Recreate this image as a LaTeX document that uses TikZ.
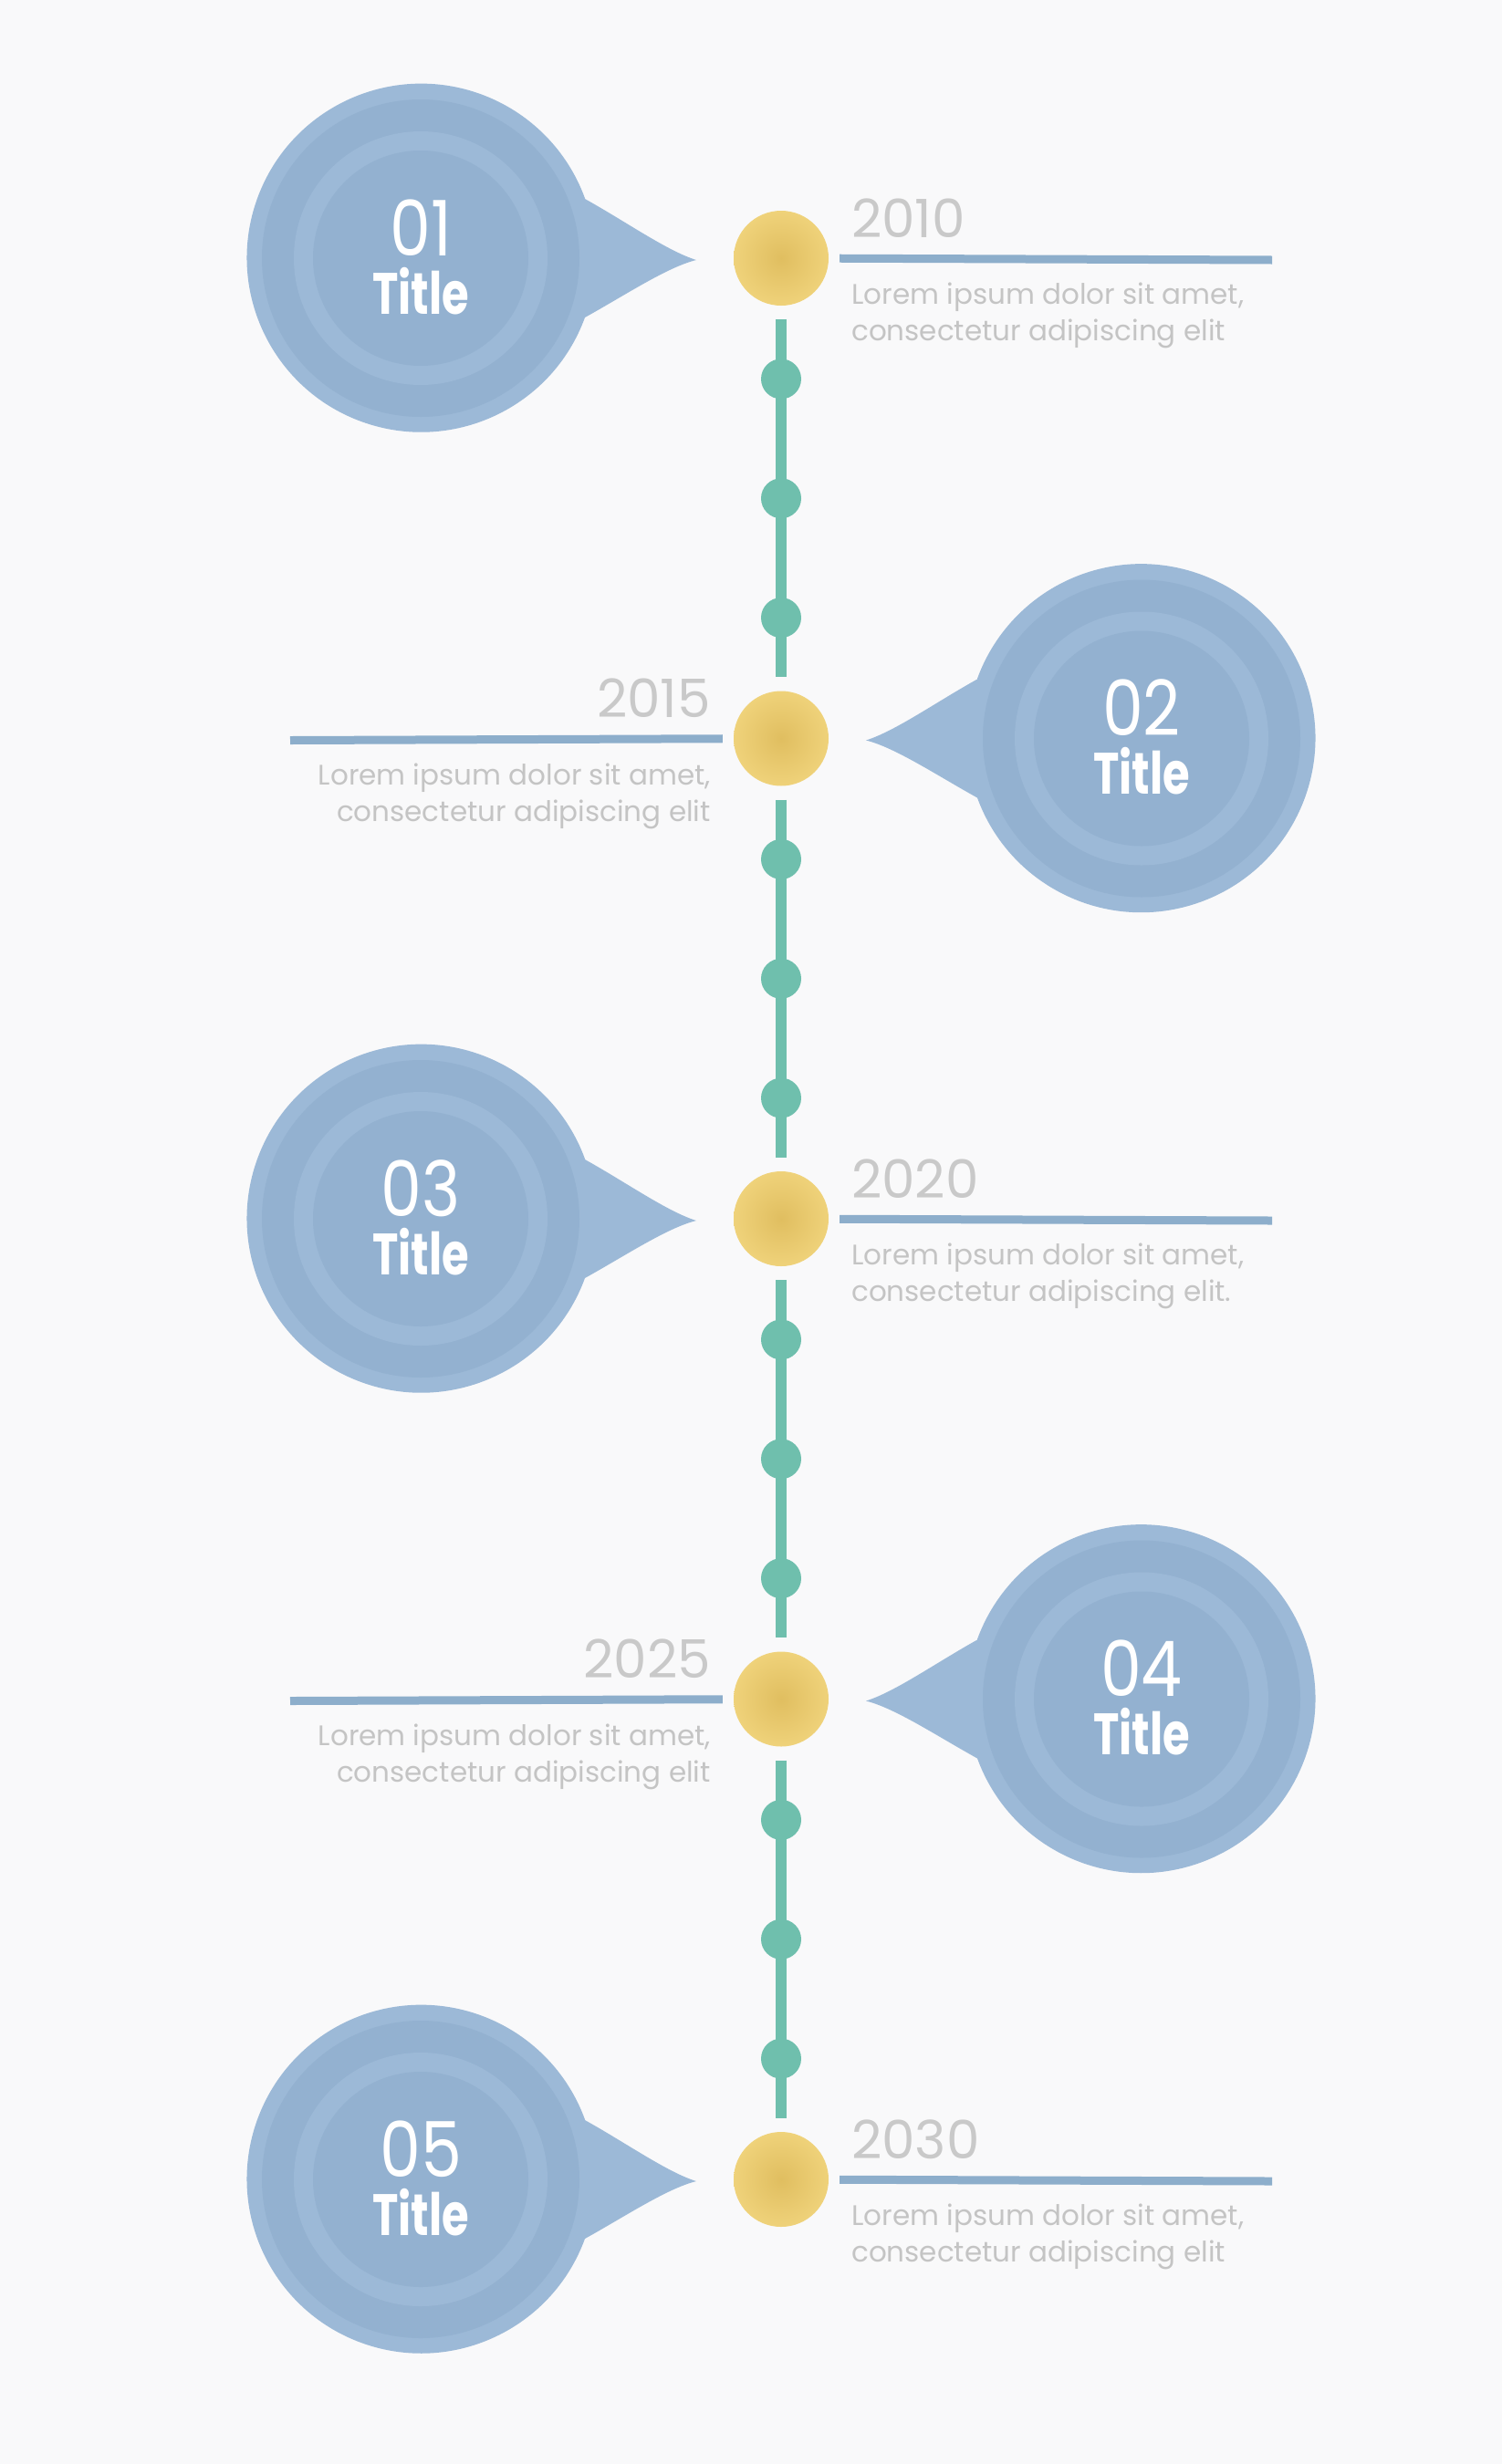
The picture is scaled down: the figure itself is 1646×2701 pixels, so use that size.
\documentclass[tikz,border=0pt]{standalone}
\usepackage{fontspec}
\setmainfont{Poppins}
\newfontfamily\numfont[FakeStretch=0.85]{Poppins}
\newfontfamily\headfont[FakeStretch=0.75]{Poppins}

\definecolor{bg}{HTML}{F9F9FA}
\definecolor{bubblelight}{HTML}{9CB9D7}
\definecolor{bubbledark}{HTML}{93B1D0}
\definecolor{dotline}{HTML}{6FBFAD}
\definecolor{armline}{HTML}{8DAECB}
\definecolor{yeargray}{HTML}{C9C9C9}
\definecolor{textgray}{HTML}{C4C4C4}
\definecolor{markout}{HTML}{EFD27A}
\definecolor{markin}{HTML}{E0BE60}

\tikzset{
  marker/.style={circle, minimum size=104pt, inner sep=0pt, inner color=markin, outer color=markout},
  dot/.style={circle, fill=dotline, minimum size=44pt, inner sep=0pt},
  arm/.style={armline, line width=9pt},
  year/.style={text=yeargray, font=\fontsize{58}{62}\selectfont, inner sep=0pt},
  blurb/.style={text=textgray, font=\fontsize{31}{40}\selectfont, inner sep=0pt},
  num/.style={text=white, font=\numfont\fontsize{84}{88}\selectfont, inner sep=0pt},
  head/.style={text=white, font=\headfont\bfseries\fontsize{64}{70}\selectfont, inner sep=0pt}
}

\begin{document}
\begin{tikzpicture}[x=1pt, y=-1pt]
  \fill[bg] (0,0) rectangle (1646,2701);
  \useasboundingbox (0,0) rectangle (1646,2701);

  % timeline markers
  \foreach \i in {1,...,5} {
    \pgfmathsetmacro{\yy}{283+526.5*(\i-1)}
    \node[marker] (m\i) at (856,\yy) {};
  };

  % dotted spine
  \foreach \i/\j in {1/2,2/3,3/4,4/5} {
    \draw[dotline, line width=12pt, shorten <=15pt, shorten >=15pt] (m\i) -- (m\j);
    \path (m\i) -- (m\j)
      node[dot, pos=0.19] (d\i-1) {}
      node[dot, pos=0.5] (d\i-2) {}
      node[dot, pos=0.81] (d\i-3) {};
  };

  % bubbles, years and text
  \foreach \i/\yr/\cx/\s/\side/\al/\txt in {
      1/2010/461/1/west/left/{Lorem ipsum dolor sit amet,\\consectetur adipiscing elit},
      2/2015/1251/-1/east/right/{Lorem ipsum dolor sit amet,\\consectetur adipiscing elit},
      3/2020/461/1/west/left/{Lorem ipsum dolor sit amet,\\consectetur adipiscing elit.},
      4/2025/1251/-1/east/right/{Lorem ipsum dolor sit amet,\\consectetur adipiscing elit},
      5/2030/461/1/west/left/{Lorem ipsum dolor sit amet,\\consectetur adipiscing elit}} {
    \pgfmathsetmacro{\yy}{283+526.5*(\i-1)}
    \pgfmathsetmacro{\sa}{90-70*\s}
    \pgfmathsetmacro{\ea}{\sa+320*\s}
    \fill[bubblelight] (\cx+180*\s, \yy-65)
      .. controls (\cx+225*\s, \yy-40) and (\cx+270*\s, \yy-8) .. (\cx+302*\s, \yy+2)
      .. controls (\cx+270*\s, \yy+10) and (\cx+225*\s, \yy+40) .. (\cx+180*\s, \yy+65)
      arc[start angle=\sa, end angle=\ea, radius=191] -- cycle;
    \fill[bubbledark] (\cx,\yy) circle (174);
    \fill[bubblelight] (\cx,\yy) circle (139);
    \fill[bubbledark] (\cx,\yy) circle (118);
    \node[num, anchor=base] (n\i) at (\cx,\yy-3) {0\i};
    \node[head, anchor=base] (h\i) at (\cx,\yy+61) {Title};

    \coordinate (a\i) at (856+538*\s, \yy+2);
    \draw[arm, shorten <=12pt] (m\i) -- (a\i);
    \node[year, anchor=base \side] (y\i) at (856+77*\s, \yy-23) {\yr};
    \node[blurb, anchor=north \side, align=\al] (t\i) at (856+77*\s, \yy+27) {\txt};
  };
\end{tikzpicture}
\end{document}
